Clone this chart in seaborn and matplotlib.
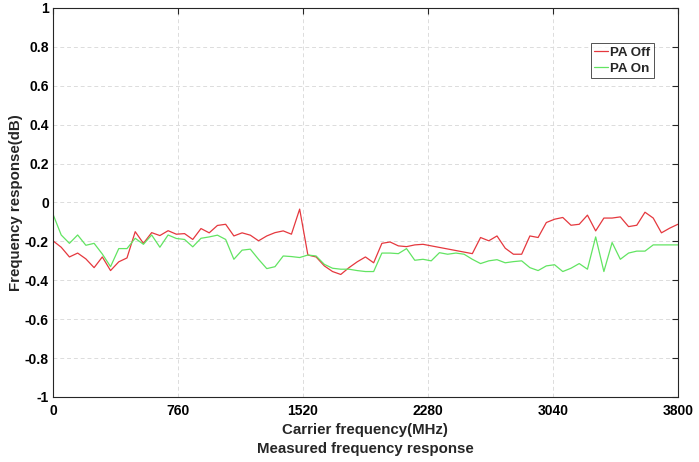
import numpy as np
import pandas as pd
import matplotlib
matplotlib.use("Agg")
import matplotlib.pyplot as plt
import seaborn as sns

# Frequency response, one point every 50 MHz
freq_step = 50
pa_off = [-0.197, -0.23, -0.28, -0.26, -0.29, -0.335, -0.28, -0.35, -0.305, -0.285,
          -0.15, -0.21, -0.155, -0.17, -0.145, -0.163, -0.16, -0.19, -0.134, -0.156,
          -0.118, -0.112, -0.172, -0.156, -0.168, -0.197, -0.172, -0.155, -0.146, -0.163,
          -0.034, -0.27, -0.28, -0.326, -0.355, -0.37, -0.335, -0.305, -0.28, -0.31,
          -0.21, -0.203, -0.223, -0.227, -0.218, -0.215,
          -0.263, -0.18, -0.197, -0.172, -0.235, -0.266, -0.266, -0.172, -0.18,
          -0.103, -0.086, -0.077, -0.117, -0.112, -0.065, -0.146, -0.08, -0.08, -0.074,
          -0.124, -0.117, -0.05, -0.08, -0.156, -0.132, -0.112]
# PA Off has no samples between 2300 and 2500 MHz (straight segment in the plot)
pa_off_freq = list(range(0, 2300, freq_step)) + list(range(2550, 3850, freq_step))

pa_on = [-0.06, -0.167, -0.21, -0.167, -0.22, -0.21, -0.265, -0.33, -0.237, -0.237,
         -0.184, -0.215, -0.167, -0.23, -0.167, -0.185, -0.19, -0.228, -0.184, -0.177,
         -0.168, -0.19, -0.292, -0.245, -0.24, -0.292, -0.34, -0.33, -0.275, -0.278,
         -0.283, -0.27, -0.275, -0.318, -0.338, -0.343, -0.343, -0.35, -0.355, -0.355,
         -0.26, -0.26, -0.263, -0.237, -0.297, -0.292, -0.3, -0.258, -0.266, -0.26,
         -0.266, -0.292, -0.314, -0.3, -0.294, -0.31, -0.304, -0.3, -0.335, -0.35,
         -0.326, -0.32, -0.355, -0.338, -0.314, -0.343, -0.177, -0.355, -0.206, -0.292,
         -0.26, -0.25, -0.25, -0.218, -0.218, -0.218, -0.218]
pa_on_freq = list(range(0, 3850, freq_step))

x_ticks = [0, 760, 1520, 2280, 3040, 3800]
y_ticks = [-1, -0.8, -0.6, -0.4, -0.2, 0, 0.2, 0.4, 0.6, 0.8, 1]
y_tick_labels = ['-1', '-0.8', '-0.6', '-0.4', '-0.2', '0', '0.2', '0.4', '0.6', '0.8', '1']

# long format for seaborn
df = pd.concat([
    pd.DataFrame({'freq': pa_off_freq, 'resp': pa_off, 'state': 'PA Off'}),
    pd.DataFrame({'freq': pa_on_freq, 'resp': pa_on, 'state': 'PA On'}),
], ignore_index=True)

sns.set_style("white")
plt.rcParams['font.family'] = ['Liberation Sans', 'DejaVu Sans']
plt.rcParams['font.weight'] = 'bold'

fig = plt.figure(figsize=(6.99, 4.62), dpi=100)
ax = fig.add_axes([0.0758, 0.1407, 0.894, 0.842])

sns.lineplot(data=df, x='freq', y='resp', hue='state',
             palette={'PA Off': '#e5383e', 'PA On': '#62e462'},
             linewidth=0.9, ax=ax, sort=False)

ax.set_xlim(0, 3800)
ax.set_ylim(-1, 1)
ax.set_xticks(x_ticks)
ax.set_xticklabels([str(t) for t in x_ticks])
ax.set_yticks(y_ticks)
ax.set_yticklabels(y_tick_labels)
ax.grid(True, linestyle=(0, (4, 3)), color='#dcdcdc', linewidth=0.7)
ax.set_axisbelow(True)
ax.tick_params(direction='in', length=4, width=0.8, top=True, right=True,
               labelsize=10, colors='#262626', pad=3)
ax.tick_params(axis='x', pad=5)
for lab in ax.get_xticklabels() + ax.get_yticklabels():
    lab.set_fontweight('bold')
    lab.set_color('black')
for sp in ax.spines.values():
    sp.set_visible(True)
    sp.set_color('#262626')
    sp.set_linewidth(0.8)

ax.set_xlabel('Carrier frequency(MHz)', fontsize=10.8, fontweight='bold', labelpad=4)
ax.set_ylabel('Frequency response(dB)', fontsize=10.8, fontweight='bold', labelpad=1)
fig.text(0.523, 0.028, 'Measured frequency response', ha='center', va='center',
         fontsize=10.8, fontweight='bold')

leg = ax.legend(loc='upper right', bbox_to_anchor=(0.9616, 0.91), fontsize=9.6,
                frameon=True, fancybox=False, handlelength=1.0, handletextpad=0.2,
                borderpad=0.25, labelspacing=0.3, borderaxespad=0)
leg.get_frame().set_edgecolor('#262626')
leg.get_frame().set_linewidth(0.7)
for t in leg.get_texts():
    t.set_fontweight('bold')

fig.savefig('out.png', dpi=100)
